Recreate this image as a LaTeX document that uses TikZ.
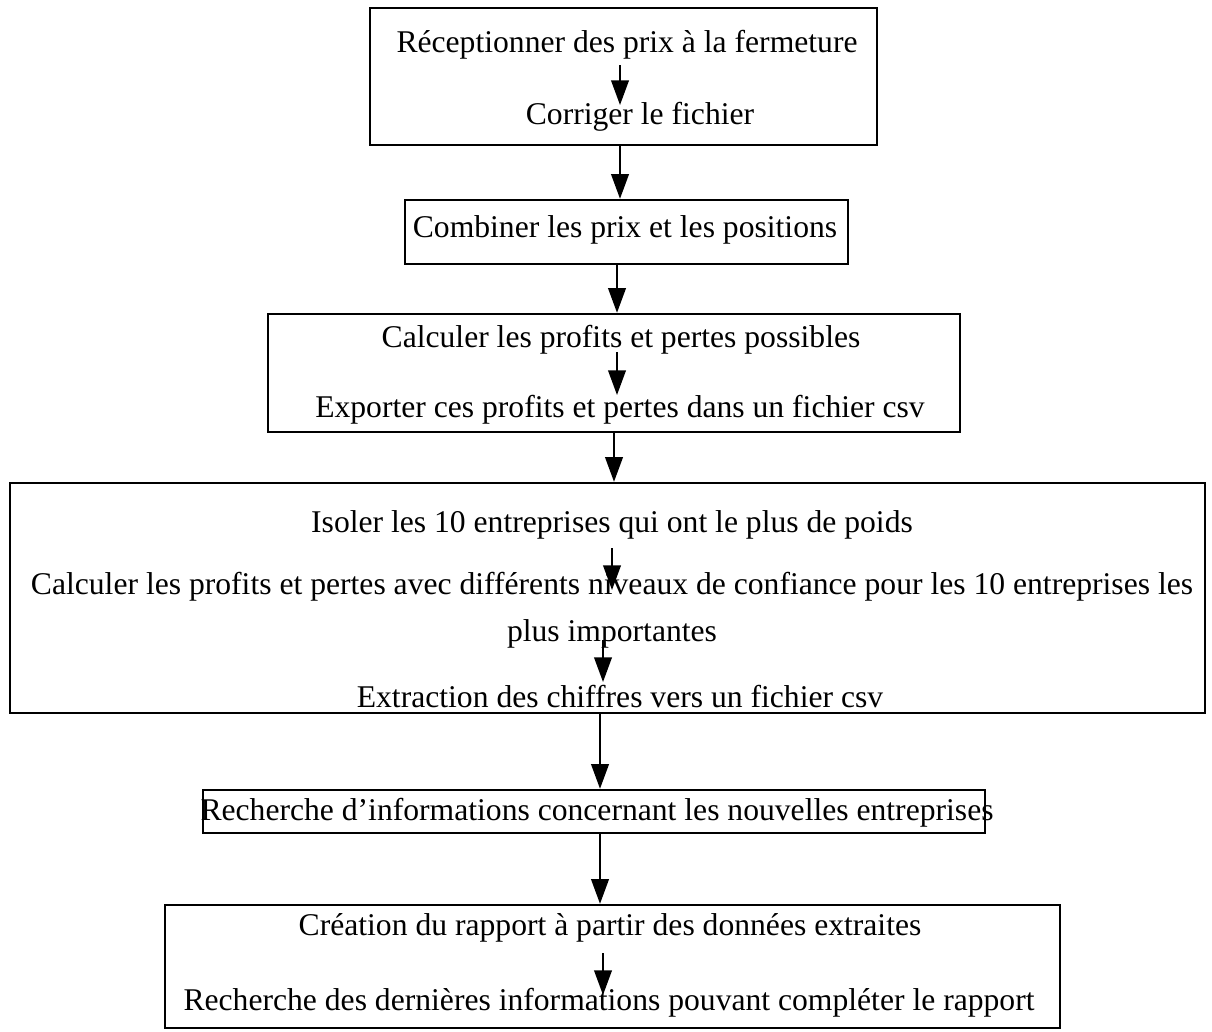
\documentclass[tikz,border=0pt]{standalone}
\usepackage{fontspec}
\setmainfont{Liberation Serif}
\usetikzlibrary{arrows.meta}

\begin{document}
\begin{tikzpicture}[x=0.02cm,y=-0.02cm]
        \tikzstyle{every node}+=[inner sep=1pt, font=\fontsize{18}{27}\selectfont]
        \tikzstyle{box}=[draw, line width=1.4pt]
        \tikzstyle{arr}=[line width=1.1pt, -{Triangle[width=10pt,length=14pt]}]
        \useasboundingbox (0,0) rectangle (1212,1031);
        % boxes
        \node [box, minimum width=10.14cm, minimum height=2.74cm] (b1) at (623.5,76.5) {};
        \node [box, minimum width=8.86cm, minimum height=1.28cm] (b2) at (626.5,232) {};
        \node [box, minimum width=13.84cm, minimum height=2.36cm] (b3) at (614,373) {};
        \node [box, minimum width=23.9cm, minimum height=4.6cm] (b4) at (607.5,598) {};
        \node [box, minimum width=15.64cm, minimum height=0.86cm] (b5) at (594,811.5) {};
        \node [box, minimum width=17.9cm, minimum height=2.46cm] (b6) at (612.5,966.5) {};
        % texts
        \node (t1) at (627,45) {Réceptionner des prix à la fermeture};
        \node (t2) at (640,117) {Corriger le fichier};
        \node (t3) at (625,230) {Combiner les prix et les positions};
        \node (t4) at (621,340) {Calculer les profits et pertes possibles};
        \node (t5) at (620,410) {Exporter ces profits et pertes dans un fichier csv};
        \node (t6) at (612,525) {Isoler les 10 entreprises qui ont le plus de poids};
        \node [align=center] (t7) at (612,610) {Calculer les profits et pertes avec différents niveaux de confiance pour les 10 entreprises les\\plus importantes};
        \node (t8) at (620,697) {Extraction des chiffres vers un fichier csv};
        \node (t9) at (597,813) {Recherche d’informations concernant les nouvelles entreprises};
        \node (t10) at (610,928) {Création du rapport à partir des données extraites};
        \node (t11) at (609,1003) {Recherche des dernières informations pouvant compléter le rapport};
        % arrows inside the boxes
        \draw [arr] (620,65) -- (620,105);
        \draw [arr] (617,352) -- (617,395);
        \draw [arr] (612,548) -- (612,590);
        \draw [arr] (603,640) -- (603,682);
        \draw [arr] (603,953) -- (603,995);
        % arrows between the boxes
        \draw [arr] ([xshift=-0.07cm]b1.south) -- ([xshift=-0.07cm]b1.south |- b2.north);
        \draw [arr] ([xshift=-0.19cm]b2.south) -- ([xshift=-0.19cm]b2.south |- b3.north);
        \draw [arr] (b3.south) -- (b3.south |- b4.north);
        \draw [arr] ([xshift=-0.15cm]b4.south) -- ([xshift=-0.15cm]b4.south |- b5.north);
        \draw [arr] ([xshift=0.12cm]b5.south) -- ([xshift=0.12cm]b5.south |- b6.north);
        \end{tikzpicture}
\end{document}
